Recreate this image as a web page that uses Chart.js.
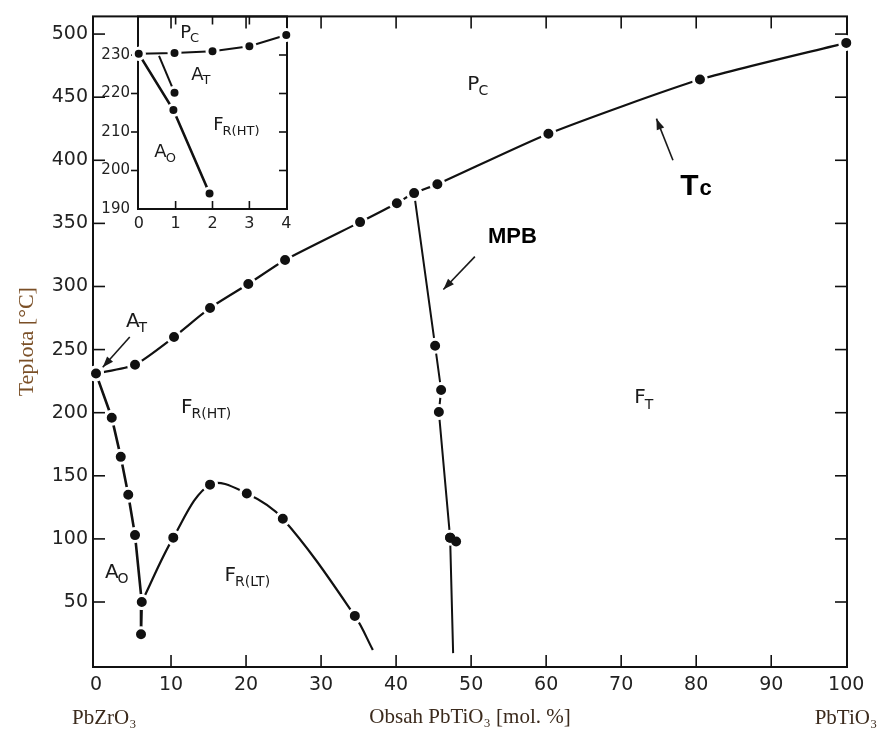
<!DOCTYPE html>
<html><head><meta charset="utf-8">
<script src="https://cdn.jsdelivr.net/npm/chart.js@4.4.0/dist/chart.umd.min.js"></script>
<style>
html,body{margin:0;padding:0;background:#fff;}
#wrap{position:relative;width:879px;height:733px;background:#fff;}
#main{position:absolute;left:0;top:0;}
#inset{position:absolute;left:97px;top:8px;}
</style></head><body>
<div id="wrap"><canvas id="main" width="879" height="733"></canvas><canvas id="inset" width="200" height="230"></canvas></div>
<script>
// ===== Main diagram (x: mol. % PbTiO3, T: °C) =====
const xTicks = [0,10,20,30,40,50,60,70,80,90,100];
const yTicks = [50,100,150,200,250,300,350,400,450,500];
const tcX   = [0,5.2,10.4,15.2,20.3,25.2,35.2,40.1,42.4,45.5,60.3,80.5,100];
const tcT   = [231,238,260,283,302,321,351,366,374,381,421,464,493];
const aoX   = [0,2.1,3.3,4.3,5.2,6.1,6.0];
const aoT   = [231,196,165,135,103,50,24.5];
const frltX = [6.1,10.3,15.2,20.1,24.9,34.5,36.9];
const frltT = [50,101,143,136,116,39,12];
const mpbX  = [42.4,45.2,46.0,45.7,47.2,47.6];
const mpbT  = [374,253,218,200.5,101,9.5];
const mpbPairX = [47.2,48.0];
const mpbPairT = [101,98];
// region labels
const lblMain = ['P','A','F','F','A','F'];
const lblSub  = ['C','T','R(HT)','T','O','R(LT)'];
const lblX    = [50.3,4.9,12.1,72.5,2.1,17.9];
const lblT    = [460,272,204,211.6,73.4,71];
// arrows (from -> to)
const arrFromX = [4.5,50.5,76.9];
const arrFromT = [260,323.7,400];
const arrToX   = [0.9,46.3,74.7];
const arrToT   = [236,297.6,433];

// ===== Inset (zoom near PbZrO3) =====
const inXTicks = [0,1,2,3,4];
const inYTicks = [190,200,210,220,230];
const inTcX = [0,0.97,2,3,4];
const inTcT = [230.3,230.5,231,232.3,235.2];
const inAtX = [0.55,0.97];
const inAtT = [229.8,220.2];
const inAoX = [0,0.94,1.92];
const inAoT = [230.3,215.7,194];
const inLblMain = ['P','A','F','A'];
const inLblSub  = ['C','T','R(HT)','O'];
const inLblX    = [1.27,1.59,2.16,0.59];
const inLblT    = [235.7,224.8,211.7,204.7];

const INK = '#111';
const pts = (xs, ts) => xs.map((x,i)=>({x:x, y:ts[i]}));

function lineDs(xs, ts, opt){
  const n = xs.length;
  return Object.assign({
    data: pts(xs, ts), borderColor: INK, borderWidth: 2.2, tension: 0,
    pointBackgroundColor: INK, pointBorderColor: '#fff', pointBorderWidth: 3,
    pointRadius: (c) => (opt && opt.openEnd && c.dataIndex === n-1) ? 0 : (opt && opt.r || 6.5),
    clip: false, showLine: true
  }, opt && opt.ds || {});
}

function drawFrameTicks(chart, spec){
  const {ctx, chartArea:a, scales} = chart;
  const xs = scales.x, ys = scales.y;
  ctx.save();
  ctx.strokeStyle = INK; ctx.lineWidth = 2;
  ctx.strokeRect(a.left, a.top, a.right-a.left, a.bottom-a.top);
  ctx.lineWidth = 1.6;
  const seg = (x1,y1,x2,y2)=>{ctx.beginPath();ctx.moveTo(x1,y1);ctx.lineTo(x2,y2);ctx.stroke();};
  spec.left.forEach(v=>{const y=ys.getPixelForValue(v); if(spec.leftOut) seg(a.left-spec.leftOut,y,a.left,y); else seg(a.left,y,a.left+spec.len,y);});
  spec.right.forEach(v=>{const y=ys.getPixelForValue(v); seg(a.right,y,a.right-spec.len,y);});
  spec.top.forEach(v=>{const x=xs.getPixelForValue(v); seg(x,a.top,x,a.top+spec.len);});
  spec.bottom.forEach(v=>{const x=xs.getPixelForValue(v); seg(x,a.bottom,x,a.bottom-spec.len);});
  ctx.restore();
}

function drawSubLabel(ctx, px, py, main, sub, fMain, fSub, dy){
  ctx.font = fMain; ctx.textAlign='center'; ctx.textBaseline='middle';
  ctx.fillText(main, px, py);
  const w = ctx.measureText(main).width;
  ctx.font = fSub; ctx.textAlign='left';
  ctx.fillText(sub, px + w/2 - 1, py + dy);
}

function drawArrow(ctx,x1,y1,x2,y2){
  ctx.beginPath(); ctx.moveTo(x1,y1); ctx.lineTo(x2,y2); ctx.stroke();
  const ang=Math.atan2(y2-y1,x2-x1), L=11, W=4;
  ctx.beginPath(); ctx.moveTo(x2,y2);
  ctx.lineTo(x2-L*Math.cos(ang)+W*Math.sin(ang), y2-L*Math.sin(ang)-W*Math.cos(ang));
  ctx.lineTo(x2-L*Math.cos(ang)-W*Math.sin(ang), y2-L*Math.sin(ang)+W*Math.cos(ang));
  ctx.closePath(); ctx.fill();
}

const tickFont = {family:'DejaVu Sans', size:19};
const mainPlugin = {
  id:'mainDeco',
  beforeDatasetsDraw(chart){
    drawFrameTicks(chart, {left:yTicks, right:yTicks, top:xTicks.slice(1,-1), bottom:xTicks.slice(1,-1), len:12});
  },
  afterDatasetsDraw(chart){
    const {ctx, scales:{x:xs, y:ys}} = chart;
    ctx.save();
    ctx.fillStyle = '#1a1a1a'; ctx.strokeStyle = '#1a1a1a'; ctx.lineWidth = 1.6;
    for (let i=0;i<lblMain.length;i++){
      drawSubLabel(ctx, xs.getPixelForValue(lblX[i]), ys.getPixelForValue(lblT[i]), lblMain[i], lblSub[i],
        '20px "DejaVu Sans"', '14px "DejaVu Sans"', 7);
    }
    for (let i=0;i<arrFromX.length;i++){
      drawArrow(ctx, xs.getPixelForValue(arrFromX[i]), ys.getPixelForValue(arrFromT[i]),
                     xs.getPixelForValue(arrToX[i]), ys.getPixelForValue(arrToT[i]));
    }
    // bold annotations
    ctx.fillStyle = '#000';
    ctx.font = 'bold 22px "Liberation Sans"'; ctx.textAlign='center'; ctx.textBaseline='middle';
    ctx.fillText('MPB', xs.getPixelForValue(55.5), ys.getPixelForValue(339));
    const tx = xs.getPixelForValue(79.1), ty = ys.getPixelForValue(372.6);
    ctx.textBaseline='alphabetic'; ctx.textAlign='left';
    ctx.font = 'bold 30px "Liberation Sans"';
    const tw = ctx.measureText('T').width;
    ctx.fillText('T', tx - tw/2, ty);
    ctx.font = 'bold 22px "Liberation Sans"';
    ctx.fillText('c', tx + tw/2 + 1, ty);
    // end-member labels
    ctx.fillStyle = '#3b2a1c'; ctx.font = '21px "Liberation Serif"'; ctx.textBaseline='middle';
    ctx.textAlign='left';
    ctx.fillText('PbZrO₃', xs.getPixelForValue(0) - 24, 718);
    ctx.textAlign='right';
    ctx.fillText('PbTiO₃', xs.getPixelForValue(100) + 31, 718);
    ctx.restore();
  }
};

new Chart(document.getElementById('main'), {
  type:'scatter',
  data:{datasets:[
    {data: pts(mpbPairX, mpbPairT), backgroundColor: INK, borderWidth:0, pointRadius:5, showLine:false, clip:false},
    lineDs(mpbX, mpbT, {openEnd:true, ds:{borderWidth:2}}),
    lineDs(frltX, frltT, {openEnd:true, ds:{tension:0.35}}),
    lineDs(aoX, aoT, {ds:{borderWidth:2.6}}),
    lineDs(tcX, tcT, {ds:{tension:0.2}})
  ]},
  options:{
    responsive:false, animation:false, devicePixelRatio:1, events:[],
    layout:{padding:{top:16, right:32, left:0, bottom:0}},
    plugins:{legend:{display:false}, tooltip:{enabled:false}},
    scales:{
      x:{type:'linear', min:-0.4, max:100.1,
        afterBuildTicks: s => { s.ticks = xTicks.map(v=>({value:v})); },
        grid:{display:false, drawTicks:false}, border:{display:false},
        ticks:{font:tickFont, color:'#222', padding:7, maxRotation:0, autoSkip:false, callback:v=>String(v)},
        title:{display:true, text:'Obsah PbTiO₃ [mol. %]', font:{family:'Liberation Serif', size:21}, color:'#3b2a1c', padding:{top:0, bottom:3}},
        afterFit: s => { s.height = 66; }
      },
      y:{type:'linear', min:-1.5, max:514,
        afterBuildTicks: s => { s.ticks = yTicks.map(v=>({value:v})); },
        grid:{display:false, drawTicks:false}, border:{display:false},
        ticks:{font:tickFont, color:'#222', padding:5, autoSkip:false, callback:v=>String(v)},
        title:{display:true, text:'Teplota [°C]', font:{family:'Liberation Serif', size:22}, color:'#7a4f26', padding:{top:14, bottom:0}},
        afterFit: s => { s.width = 93; }
      }
    }
  },
  plugins:[mainPlugin]
});

const insetPlugin = {
  id:'insetDeco',
  beforeDatasetsDraw(chart){
    drawFrameTicks(chart, {left:inYTicks.slice(1), leftOut:7, right:inYTicks.slice(1), top:inXTicks.slice(1,-1), bottom:inXTicks.slice(1,-1), len:8});
  },
  afterDatasetsDraw(chart){
    const {ctx, scales:{x:xs, y:ys}} = chart;
    ctx.save(); ctx.fillStyle = '#1a1a1a';
    for (let i=0;i<inLblMain.length;i++){
      drawSubLabel(ctx, xs.getPixelForValue(inLblX[i]), ys.getPixelForValue(inLblT[i]), inLblMain[i], inLblSub[i],
        '18px "DejaVu Sans"', '13px "DejaVu Sans"', 6);
    }
    ctx.restore();
  }
};

new Chart(document.getElementById('inset'), {
  type:'scatter',
  data:{datasets:[
    lineDs(inAtX, inAtT, {r:5.5, ds:{borderWidth:2, pointRadius:(c)=>c.dataIndex===0?0:5.5}}),
    lineDs(inAoX, inAoT, {r:5.5, ds:{borderWidth:2.6}}),
    lineDs(inTcX, inTcT, {r:5.5, ds:{borderWidth:2}})
  ]},
  options:{
    responsive:false, animation:false, devicePixelRatio:1, events:[],
    layout:{padding:{top:0, right:10, left:0, bottom:0}},
    plugins:{legend:{display:false}, tooltip:{enabled:false}},
    scales:{
      x:{type:'linear', min:-0.02, max:4.02,
        afterBuildTicks: s => { s.ticks = inXTicks.map(v=>({value:v})); },
        grid:{display:false, drawTicks:false}, border:{display:false},
        ticks:{font:{family:'DejaVu Sans', size:16}, color:'#222', padding:5, maxRotation:0, autoSkip:false, callback:v=>String(v)},
        afterFit: s => { s.height = 29; s.paddingLeft = 0; s.paddingRight = 0; }
      },
      y:{type:'linear', min:190, max:240,
        afterBuildTicks: s => { s.ticks = inYTicks.map(v=>({value:v})); },
        grid:{display:false, drawTicks:false}, border:{display:false},
        ticks:{font:{family:'DejaVu Sans', size:15}, color:'#222', padding:8, autoSkip:false, callback:v=>String(v)},
        afterFit: s => { s.width = 41; s.paddingTop = 0; s.paddingBottom = 0; }
      }
    }
  },
  plugins:[insetPlugin]
});
</script>
</body></html>
